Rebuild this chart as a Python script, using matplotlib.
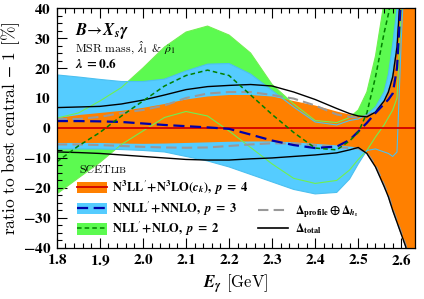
import numpy as np
import matplotlib
matplotlib.use('Agg')
import matplotlib.pyplot as plt
from matplotlib.patches import Patch
from matplotlib.lines import Line2D
from matplotlib.ticker import MultipleLocator, FuncFormatter

plt.rcParams['mathtext.fontset'] = 'cm'
plt.rcParams['font.family'] = 'cmr10'
plt.rcParams['axes.formatter.use_mathtext'] = True

# photon energy grid [GeV]
E = [1.80, 1.85, 1.90, 1.95, 2.00, 2.05, 2.10, 2.15, 2.20, 2.25, 2.30, 2.35, 2.40,
     2.45, 2.48, 2.50, 2.52, 2.54, 2.56, 2.57, 2.58, 2.59, 2.60, 2.61, 2.62, 2.64]

# N3LL' band (orange), central is the reference -> 0
n3ll_central = [0.0] * len(E)
n3ll_up = [3.3, 4.3, 5.0, 5.7, 6.7, 8.0, 9.5, 10.5, 11.0, 11.0, 10.5, 9.0, 7.5,
           5.5, 4.5, 4.0, 3.7, 5.3, 9.0, 12.0, 17.0, 27.0, 50.0, 80.0, 100.0, 100.0]
n3ll_lo = [-5.0, -5.0, -5.0, -5.2, -5.3, -5.2, -5.0, -4.8, -4.6, -4.5, -4.5, -4.8, -5.3,
           -5.8, -6.2, -6.5, -8.5, -13.0, -19.5, -23.0, -27.5, -31.5, -35.5, -39.5, -46.0, -55.0]

# NNLL' band (blue)
nnll_central = [2.3, 2.3, 2.2, 2.0, 1.5, 1.0, 0.6, 0.2, -0.3, -2.2, -4.2, -5.7, -6.7,
                -6.2, -4.0, -1.2, 1.7, 5.0, 8.0, 9.5, 11.5, 20.0, 45.0, 70.0, 90.0, 100.0]
nnll_up = [17.7, 17.0, 16.2, 15.5, 15.5, 16.3, 19.0, 21.3, 21.5, 18.0, 12.5, 7.0, 2.0,
           1.0, 2.5, 3.0, 4.5, 7.0, 12.0, 18.0, 28.0, 40.0, 60.0, 80.0, 100.0, 100.0]
nnll_lo = [-7.0, -7.0, -7.0, -7.2, -7.5, -8.0, -9.5, -11.0, -13.0, -15.5, -18.0, -20.5, -22.0,
           -21.5, -17.0, -12.0, -7.5, -7.0, -8.0, -8.5, -9.5, -8.0, 30.0, 60.0, 80.0, 100.0]

# NLL' band (green)
nll_central = [-11.3, -6.0, -1.5, 4.0, 9.0, 14.0, 17.5, 19.3, 17.5, 11.0, 4.5, -1.5, -6.7,
               -7.3, -4.3, -1.5, 5.0, 17.0, 31.7, 38.0, 46.0, 55.0, 70.0, 80.0, 90.0, 100.0]
nll_up = [3.3, 5.0, 9.0, 13.5, 20.0, 27.0, 32.0, 34.0, 31.0, 25.0, 14.5, 8.0, 2.5,
          1.8, 3.5, 6.0, 12.0, 24.0, 42.0, 50.0, 60.0, 70.0, 80.0, 90.0, 100.0, 100.0]
nll_lo = [-22.0, -16.7, -11.5, -5.5, -1.0, 3.5, 5.5, 4.0, -1.0, -6.5, -12.0, -16.8, -18.5,
          -17.5, -14.0, -10.5, -7.5, -3.0, 1.0, 3.5, 6.0, 10.0, 40.0, 70.0, 90.0, 100.0]

# uncertainty breakdown curves
prof_up = [3.0, 3.0, 3.7, 5.0, 6.0, 7.5, 10.0, 11.5, 12.0, 12.0, 11.0, 9.8, 7.5,
           4.5, 3.7, 3.5, 4.0, 5.5, 9.0, 12.0, 17.0, 27.0, 50.0, 80.0, 100.0, 100.0]
prof_lo = [-5.5, -5.5, -5.7, -6.0, -6.3, -6.5, -6.6, -6.5, -6.0, -5.5, -5.1, -5.2, -5.8,
           -6.4, -6.7, -6.8, -8.3, -12.5, -19.0, -22.5, -27.0, -31.0, -35.0, -39.0, -45.5, -55.0]
total_up = [6.8, 7.0, 7.2, 8.0, 9.3, 11.0, 12.8, 13.8, 14.2, 14.5, 14.0, 12.0, 9.5,
            6.5, 4.8, 4.0, 3.7, 5.3, 9.0, 12.0, 17.0, 27.0, 50.0, 80.0, 100.0, 100.0]
total_lo = [-8.0, -8.2, -8.5, -9.0, -9.5, -10.0, -10.5, -10.7, -10.7, -10.3, -10.0, -9.5, -9.0,
            -8.3, -7.3, -6.5, -8.5, -13.0, -19.5, -23.0, -27.5, -31.5, -35.5, -39.5, -46.0, -55.0]

orange = '#ff8000'
blue_fill = '#55ccff'
green_fill = '#5cfa50'


def math_ok(s, fam):
    # check that a mathtext string renders with the given math font family
    f = plt.figure(figsize=(1, 1))
    f.text(0, 0, s, math_fontfamily=fam)
    try:
        f.canvas.draw()
        ok = True
    except Exception:
        ok = False
    plt.close(f)
    return ok


bfit_fam = None
for fam in ('cm', 'stix', 'dejavuserif'):
    if math_ok(r'$\mathbfit{B X_s\gamma p c_k}$', fam):
        bfit_fam = fam
        break

if bfit_fam is not None:
    plt.rcParams['mathtext.fontset'] = bfit_fam
    bi = r'\mathbfit'
else:
    bi = r'\mathbf'

fig = plt.figure(figsize=(4.24, 2.99), dpi=100)
ax = fig.add_axes([0.134, 0.171, 0.845, 0.802])

ax.fill_between(E, nll_lo, nll_up, color=green_fill, lw=0, zorder=1)
ax.fill_between(E, nnll_lo, nnll_up, color=blue_fill, lw=0, zorder=2)
ax.fill_between(E, n3ll_lo, n3ll_up, color=orange, lw=0, zorder=3)

# band edges as thin lines
for y in (nll_up, nll_lo):
    ax.plot(E, y, color='#70f050', lw=0.8, zorder=4)
for y in (nnll_up, nnll_lo):
    ax.plot(E, y, color='#4cc0f0', lw=0.8, zorder=4)

for y in (prof_up, prof_lo):
    ax.plot(E, y, color='#999999', lw=1.5, dashes=(5, 2.5), zorder=5)
for y in (total_up, total_lo):
    ax.plot(E, y, color='black', lw=1.0, zorder=6)

ax.plot(E, n3ll_central, color='#d00000', lw=1.3, zorder=7)
ax.plot(E, nnll_central, color='#0000aa', lw=1.6, dashes=(5, 2.5), zorder=8)
ax.plot(E, nll_central, color='#008000', lw=1.1, dashes=(3, 2), zorder=9)

ax.set_xlim(1.8, 2.632)
ax.set_ylim(-40, 40)
ax.xaxis.set_major_locator(MultipleLocator(0.1))
ax.xaxis.set_minor_locator(MultipleLocator(0.02))
ax.yaxis.set_major_locator(MultipleLocator(10))
ax.yaxis.set_minor_locator(MultipleLocator(2.5))
ax.tick_params(which='both', direction='in', top=True, right=True, width=0.8)
ax.tick_params(which='major', length=7, labelsize=11, pad=4)
ax.tick_params(which='minor', length=3.5)
ax.xaxis.set_major_formatter(FuncFormatter(lambda v, p: r'$\mathbf{%.1f}$' % v))
ax.yaxis.set_major_formatter(FuncFormatter(lambda v, p: r'$\mathbf{%d}$' % round(v) if v >= 0
                                           else r'$\mathbf{-%d}$' % round(-v)))
for s in ax.spines.values():
    s.set_linewidth(0.9)
    s.set_zorder(20)

ax.set_ylabel(r'ratio to best central $-$ 1 [%]', fontsize=12.5, labelpad=1)
ax.set_xlabel(r'$%s{E_\gamma}$ [GeV]' % bi, fontsize=12, labelpad=3)

ax.text(0.05, 0.905, r'$%s{B}\!\rightarrow\!%s{X_s\gamma}$' % (bi, bi),
        transform=ax.transAxes, fontsize=12, va='center')
ax.text(0.05, 0.835, r'MSR mass, $\hat{\lambda}_1$ & $\hat{\rho}_1$', transform=ax.transAxes,
        fontsize=8.5, va='center')
ax.text(0.05, 0.765, r'$%s{\lambda}\ \mathbf{= 0.6}$' % bi, transform=ax.transAxes,
        fontsize=9.5, va='center')

t = ax.text(0.062, 0.325, 'SCET', transform=ax.transAxes, fontsize=8.5, va='center')
ax.annotate('LIB', xy=(1.0, 0.0), xycoords=t, fontsize=6.8, va='bottom', ha='left')

h1 = (Patch(color=orange, lw=0), Line2D([], [], color='#d00000', lw=1.3))
h2 = (Patch(color=blue_fill, lw=0), Line2D([], [], color='#0000aa', lw=1.6, dashes=(5, 2.5)))
h3 = (Patch(color=green_fill, lw=0), Line2D([], [], color='#008000', lw=1.1, dashes=(3, 2)))
leg1 = ax.legend([h1, h2, h3],
                 [r"$\mathbf{N^3LL}^{\prime}\mathbf{\!+\!N^3LO(}%s{c_k}\mathbf{),}\ %s{p}\ \mathbf{=\ 4}$" % (bi, bi),
                  r"$\mathbf{NNLL}^{\prime}\mathbf{\!+\!NNLO,}\ %s{p}\ \mathbf{=\ 3}$" % bi,
                  r"$\mathbf{NLL}^{\prime}\mathbf{\!+\!NLO,}\ %s{p}\ \mathbf{=\ 2}$" % bi],
                 loc='lower left', bbox_to_anchor=(0.055, 0.04), frameon=False,
                 fontsize=9, handlelength=2.4, handleheight=1.0, handletextpad=0.45,
                 labelspacing=0.2, borderaxespad=0, borderpad=0)
ax.add_artist(leg1)
leg1.set_zorder(30)

h4 = Line2D([], [], color='#999999', lw=1.5, dashes=(5, 2.5))
h5 = Line2D([], [], color='black', lw=1.2)
leg2 = ax.legend([h4, h5],
                 [r'$\mathbf{\Delta_{profile}\oplus\Delta}_{%s{h_s}}$' % bi,
                  r'$\mathbf{\Delta_{total}}$'],
                 loc='lower left', bbox_to_anchor=(0.562, 0.05), frameon=False,
                 fontsize=8.5, handlelength=2.5, handletextpad=0.6,
                 labelspacing=0.1, borderaxespad=0, borderpad=0)
leg2.set_zorder(30)

fig.savefig('out.png', dpi=100)
